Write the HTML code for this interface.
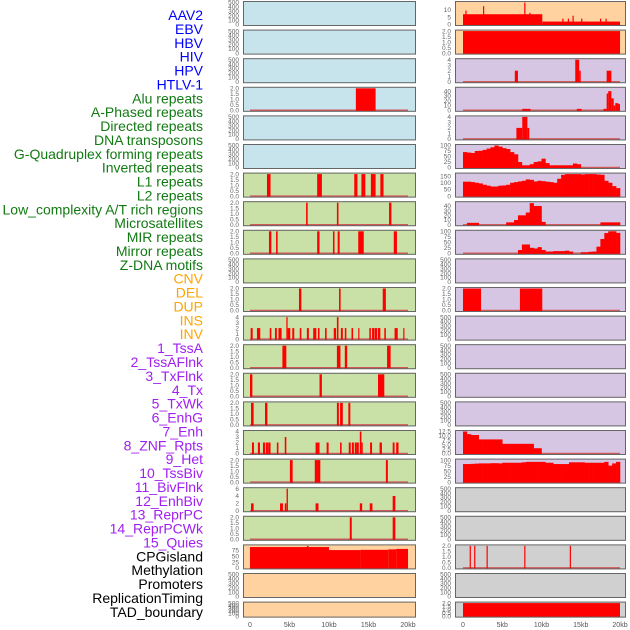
<!DOCTYPE html>
<html><head><meta charset="utf-8"><style>
html,body{margin:0;padding:0;background:#fff;width:630px;height:630px;overflow:hidden}
svg{display:block;font-family:"Liberation Sans",sans-serif}
</style></head><body>
<svg id="chart" width="630" height="630" viewBox="0 0 630 630"></svg>
<script>
// ---- track labels ----
const trackLabels = ["AAV2","EBV","HBV","HIV","HPV","HTLV-1","Alu repeats","A-Phased repeats","Directed repeats","DNA transposons","G-Quadruplex forming repeats","Inverted repeats","L1 repeats","L2 repeats","Low_complexity A/T rich regions","Microsatellites","MIR repeats","Mirror repeats","Z-DNA motifs","CNV","DEL","DUP","INS","INV","1_TssA","2_TssAFlnk","3_TxFlnk","4_Tx","5_TxWk","6_EnhG","7_Enh","8_ZNF_Rpts","9_Het","10_TssBiv","11_BivFlnk","12_EnhBiv","13_ReprPC","14_ReprPCWk","15_Quies","CPGisland","Methylation","Promoters","ReplicationTiming","TAD_boundary"];
const labelGroups = ["virus","virus","virus","virus","virus","virus","repeat","repeat","repeat","repeat","repeat","repeat","repeat","repeat","repeat","repeat","repeat","repeat","repeat","sv","sv","sv","sv","sv","hmm","hmm","hmm","hmm","hmm","hmm","hmm","hmm","hmm","hmm","hmm","hmm","hmm","hmm","hmm","other","other","other","other","other"];
const xTickValues = [0,5000,10000,15000,20000];
const xTickLabels = ["0","5kb","10kb","15kb","20kb"];

// ---- interval data: [startKb, endKb, value] ----
const L3 = [[13.4,15.9,2]];
const L6 = [[2.15,2.6,2],[8.5,9.1,2],[13.2,13.6,2],[14.1,14.6,2],[15.3,15.9,2],[16.5,16.9,2]];
const L7 = [[7.1,7.3,2],[11.0,11.2,2],[17.6,17.9,2]];
const L8 = [[2.4,2.7,2],[3.3,3.5,2],[8.5,8.8,2],[10.5,10.7,2],[11.1,11.35,2],[13.7,14.4,2],[18.2,18.6,2]];
const L10 = [[6.2,6.5,2],[11.27,11.47,2],[16.8,17.2,2]];
const L11 = [[0.08,0.34,2],[0.88,1.3,2],[2.5,2.7,2],[3.16,3.4,2],[3.6,4.0,2],[4.6,4.76,4],[4.76,5.1,2],[5.35,5.6,2],[6.3,6.5,2],[7.2,7.45,2],[8.0,8.4,2],[8.6,8.8,2],[9.5,9.7,2],[10.6,10.9,2],[11.0,11.2,4],[11.5,11.75,2],[12.0,12.2,2],[12.85,13.05,2],[13.7,13.8,2],[15.1,15.3,2],[15.45,15.75,2],[15.8,16.1,2],[16.2,16.5,2],[17.0,17.2,2],[18.3,18.7,2],[19.4,19.5,2]];
const L12 = [[4.1,4.6,2],[11.0,11.45,2],[12.0,12.3,2],[17.35,17.8,2]];
const L13 = [[0.0,0.3,2],[8.8,9.1,2],[16.2,17.0,2]];
const L14 = [[0.13,0.46,2],[1.9,2.2,2],[11.0,11.25,2],[11.4,11.75,2],[12.45,12.7,2]];
const L15 = [[0.25,0.5,2],[1.0,1.26,2],[1.64,1.9,2],[2.0,2.27,2],[2.3,2.6,2],[3.4,3.6,2],[4.4,4.6,3],[8.3,8.6,2],[8.6,8.8,2],[9.7,9.95,2],[11.4,11.6,2],[12.5,12.75,2],[12.9,13.15,2],[13.26,13.5,2],[13.5,13.77,2],[13.9,14.1,4],[14.1,14.27,2],[15.2,15.45,2],[16.4,16.7,2],[18.06,18.3,2],[18.5,18.8,2]];
const L16 = [[5.05,5.4,2],[8.2,8.6,2],[8.6,8.9,2],[17.2,17.45,2]];
const L17 = [[0.13,0.46,2],[3.8,4.17,2],[4.4,4.6,2],[4.63,4.8,6],[8.3,8.67,2],[13.9,14.2,2],[15.16,15.5,2],[18.06,18.4,4]];
const L18 = [[12.63,12.88,2],[18.06,18.4,2]];
const L19 = [[0,10,90],[7.2,7.4,95],[10,14,77],[14,17.5,78],[17.5,18.5,80],[18.5,20,82]];
const R0 = [[0,10.1,7],[10.1,20,2],[0.3,0.45,9.5],[2.55,2.7,12.5],[7.8,7.95,15],[8.45,8.6,8],[12.65,12.8,4],[13.35,13.5,4],[13.95,14.1,6],[15.05,15.2,4],[17.45,17.6,4],[18.15,18.3,4]];
const R1 = [[0,20,2]];
const R2 = [[6.6,7.0,2],[14.3,14.8,4],[14.8,15.0,2],[18.3,18.9,2]];
const R3 = [[7.55,8.6,3],[14.5,15.1,3],[17.9,18.3,3],[18.3,18.5,35],[18.5,18.9,40],[18.9,19.2,25],[19.2,19.4,10],[19.4,19.8,15],[19.8,20,13]];
const R4 = [[6.8,7.55,2],[7.55,8.2,4],[8.2,8.45,2]];
const R10 = [[0,2.3,2],[7.25,10.1,2]];
const R19 = [[0.85,1.0,2],[1.42,1.57,2],[3.0,3.15,2],[7.8,7.95,2],[13.6,13.75,2]];
const R21 = [[0,20,2]];

// ---- binned profiles (0.5 kb bins, 0-20 kb) ----
const R5 = [70,68,66,75,76,80,86,92,100,95,88,84,70,60,25,10,10,15,25,28,40,20,10,10,10,10,10,10,18,15,0,0,0,0,0,0,0,0,0,0];
const R6 = [108,108,105,100,95,85,78,72,72,78,80,85,100,105,110,115,125,122,110,115,112,108,105,100,130,160,165,165,165,165,162,165,165,165,162,160,115,100,75,60];
const R7 = [0,4,4,4,0,0,0,0,0,0,0,5,5,10,20,20,26,46,40,40,6,0,0,0,0,0,0,0,0,0,0,0,0,0,0,5,5,5,5,5];
const R8 = [0,0,0,0,0,0,0,0,0,0,0,0,0,0,15,40,40,25,22,28,15,8,8,10,10,10,12,8,0,0,5,5,7,8,30,65,92,100,100,93];
const R15 = [12.5,11,10.5,10.5,8,8,8,8,8,8,5.5,5.5,5.5,5.5,5.5,5.5,5.5,5.5,3,3,0,0,0,0,0,0,0,0,0,0,0,0,0,0,0,0,0,0,0,0];
const R16 = [82,82,83,84,85,85,85,86,86,85,88,88,88,88,88,90,92,92,92,92,92,88,88,82,82,82,82,90,90,90,90,88,88,88,88,88,92,75,85,92];

// ---- tick label sets ----
const T500 = ["0","100","200","300","400","500"];
const T2 = ["0.0","0.5","1.0","1.5","2.0"];
const T4 = ["0","1","2","3","4"];
const T6 = ["0","2","4","6"];
const T75 = ["0","25","50","75"];
const T100 = ["0","25","50","75","100"];
const T150 = ["0","50","100","150"];
const T40 = ["0","10","20","30","40"];
const T10 = ["0","5","10"];
const T125 = ["0.0","2.5","5.0","7.5","10.0","12.5"];

const BG = {blue:"#c7e3ec",green:"#c9e1a6",orange:"#ffd29f",purple:"#d6c6e3",gray:"#d0d0d0"};
// panels: col, row, bg, max, ticks, intervals, bins
const panels = [
 [0,0,"blue",500,T500,null,null],[0,1,"blue",500,T500,null,null],[0,2,"blue",500,T500,null,null],
 [0,3,"blue",2,T2,L3,null],[0,4,"blue",500,T500,null,null],[0,5,"blue",500,T500,null,null],
 [0,6,"green",2,T2,L6,null],[0,7,"green",2,T2,L7,null],[0,8,"green",2,T2,L8,null],
 [0,9,"green",500,T500,null,null],[0,10,"green",2,T2,L10,null],[0,11,"green",4,T4,L11,null],
 [0,12,"green",2,T2,L12,null],[0,13,"green",2,T2,L13,null],[0,14,"green",2,T2,L14,null],
 [0,15,"green",4,T4,L15,null],[0,16,"green",2,T2,L16,null],[0,17,"green",6,T6,L17,null],
 [0,18,"green",2,T2,L18,null],[0,19,"orange",95,T75,L19,null],[0,20,"orange",500,T500,null,null],
 [0,21,"orange",500,T500,null,null],
 [1,0,"orange",15,T10,R0,null],[1,1,"orange",2,T2,R1,null],[1,2,"purple",4,T4,R2,null],
 [1,3,"purple",46,T40,R3,null],[1,4,"purple",4,T4,R4,null],[1,5,"purple",100,T100,null,R5],
 [1,6,"purple",165,T150,null,R6],[1,7,"purple",47,T40,null,R7],[1,8,"purple",100,T100,null,R8],
 [1,9,"purple",500,T500,null,null],[1,10,"purple",2,T2,R10,null],[1,11,"purple",500,T500,null,null],
 [1,12,"purple",500,T500,null,null],[1,13,"purple",500,T500,null,null],[1,14,"purple",500,T500,null,null],
 [1,15,"purple",12.5,T125,null,R15],[1,16,"purple",100,T100,null,R16],[1,17,"gray",500,T500,null,null],
 [1,18,"gray",500,T500,null,null],[1,19,"gray",2,T2,R19,null],[1,20,"gray",500,T500,null,null],
 [1,21,"gray",2,T2,R21,null]
];

const NS="http://www.w3.org/2000/svg";
const svg=document.getElementById("chart");
function mk(tag,attrs,parent){const e=document.createElementNS(NS,tag);for(const k in attrs)e.setAttribute(k,attrs[k]);(parent||svg).appendChild(e);return e;}
const colLeft=[243,455], colRight=[416,626], zeroX=[250,463], kbPx=[7.9,7.85];
function xScale(col,bp){return zeroX[col]+bp/1000*kbPx[col];}
function rowTop(r){return 1+r*28.6;}
function rowH(r){return r===21?16:25;}

// labels
const gColor={virus:"#0000ff",repeat:"#127a12",sv:"#ffa500",hmm:"#a020f0",other:"#000000"};
trackLabels.forEach((t,i)=>{
  const el=mk("text",{x:203,y:15+i*13.88+5,"text-anchor":"end","font-size":"14",fill:gColor[labelGroups[i]]});
  el.textContent=t;
  
  
});

panels.forEach(p=>{
  const [col,row,bg,max,ticks,iv,bins]=p;
  const top=rowTop(row),h=rowH(row),L=colLeft[col],R=colRight[col];
  const g=mk("g",{});
  
  
  mk("rect",{x:L,y:top,width:R-L,height:h,fill:BG[bg]},g);
  const bot=top+h-1.5;
  const yS=v=>bot-v/max*(h-3);
  if(iv||bins){
    mk("line",{x1:xScale(col,0),x2:xScale(col,20000),y1:bot,y2:bot,stroke:"#d05a5a","stroke-width":1.5},g);
  }
  if(bins){
    bins.forEach((v,i)=>{
      if(v<=0)return;
      const x0=xScale(col,i*500),x1=xScale(col,(i+1)*500);
      const b=mk("rect",{x:x0,y:yS(v),width:x1-x0+0.3,height:bot-yS(v)+1,fill:"#ff0000"},g);
      
      
    });
  }
  if(iv){
    iv.forEach(d=>{
      const x0=xScale(col,d[0]*1000),x1=xScale(col,d[1]*1000);
      const b=mk("rect",{x:x0,y:yS(d[2]),width:Math.max(1.2,x1-x0),height:bot-yS(d[2])+1,fill:"#ff0000"},g);
      
      
    });
  }
  mk("rect",{x:L+0.5,y:top+0.5,width:R-L-1,height:h-1,fill:"none",stroke:"#666","stroke-width":1},g);
  // y ticks
  const n=ticks.length;
  ticks.forEach((t,i)=>{
    const v=max===500?i*100:parseFloat(t);
    const y=yS(v);
    const tx=mk("text",{x:L-4,y:y+2.2,"text-anchor":"end","font-size":"6.5",fill:"#666"},g);
    tx.textContent=t;
    
    
  });
});

// x axis labels
[0,1].forEach(col=>{
  xTickValues.forEach((v,i)=>{
    const t=mk("text",{x:xScale(col,v),y:627,"text-anchor":"middle","font-size":"7",fill:"#555"});
    t.textContent=xTickLabels[i];
    
    
  });
});
</script>
</body></html>
